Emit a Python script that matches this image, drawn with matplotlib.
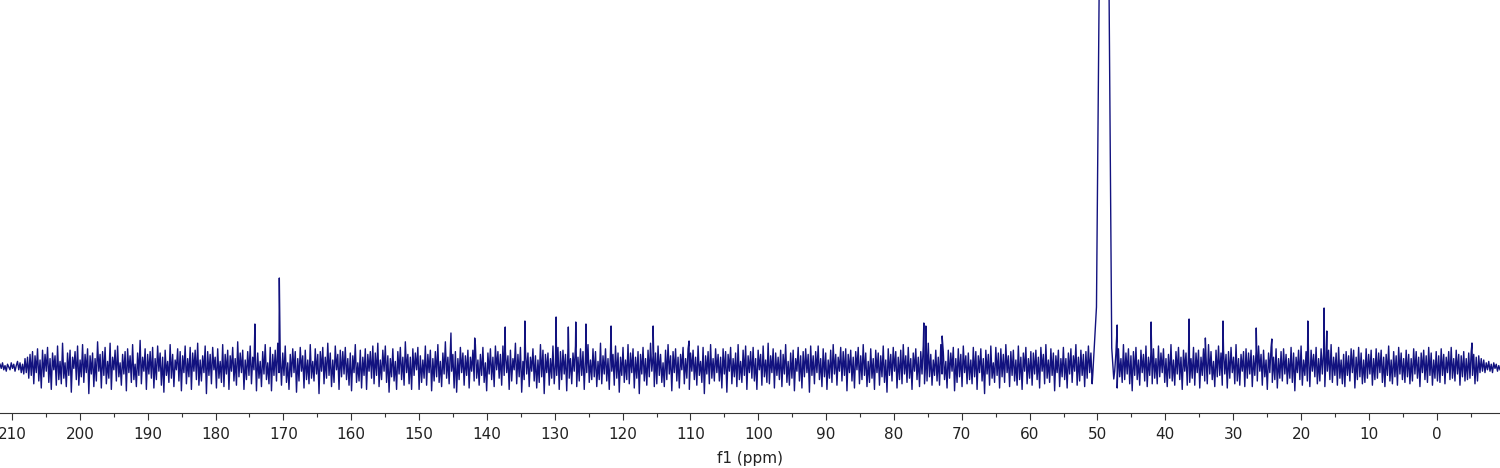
import matplotlib.pyplot as plt
from matplotlib.ticker import MultipleLocator
import numpy as np

# noise floor, left to right (relative units)
noise = [
    2, -1, 3, -2, 1, -3, 2, 0, -2, 3, -1, 2, -3, 1, 4, -2, 3, -4, 2, -5, 6, -4, 7, -8, 9,
    -6, 11, -12, 8, -4, 13, -10, 5, -15, 12, -7, 9, -3, 14, -11, 6, -16, 10, -2, 8, -13, 15, -9, 4, -12,
    17, -8, 3, -14, 10, -6, 12, -18, 7, -1, 11, -9, 15, -13, 5, -7, 16, -11, 9, -4, 13, -19, 8, -5, 10,
    -14, 6, -10, 18, -3, 9, -15, 11, -6, 14, -12, 4, -8, 17, -16, 7, -2, 12, -10, 15, -7, 3, -13, 9, -5,
    11, -17, 13, -4, 8, -11, 16, -9, 2, -14, 10, -6, 19, -12, 7, -3, 13, -16, 9, -5, 11, -8, 14, -15, 6,
    -9, 15, -3, 10, -13, 7, -18, 12, -6, 4, -11, 16, -8, 9, -14, 5, -2, 13, -10, 11, -17, 8, -4, 15, -12,
    6, -7, 14, -16, 10, -3, 12, -9, 17, -13, 5, -10, 8, -4, 15, -19, 11, -6, 9, -12, 14, -2, 7, -15, 13,
    -8, 4, -11, 16, -14, 9, -5, 12, -16, 8, -3, 14, -10, 6, -13, 18, -7, 10, -4, 12, -16, 5, -9, 11, -6,
    15, -12, 7, -2, 13, -17, 10, -8, 4, -14, 11, -5, 16, -9, 3, -12, 14, -17, 9, -6, 12, -10, 17, -4, 8,
    -13, 10, -6, 15, -11, 3, -16, 9, -7, 13, -4, 11, -18, 6, -10, 14, -3, 8, -15, 12, -9, 5, -12, 16, -8,
    4, -10, 13, -5, 9, -19, 11, -3, 14, -12, 7, -8, 17, -6, 10, -14, 5, -11, 15, -2, 9, -16, 12, -7, 11,
    -5, 14, -9, 6, -13, 10, -17, 8, -4, 16, -11, 3, -10, 12, -15, 7, -6, 13, -16, 9, -3, 11, -8, 15, -12,
    10, -6, 17, -14, 5, -9, 12, -3, 15, -11, 8, -18, 6, -7, 13, -10, 4, -16, 11, -5, 14, -9, 7, -13, 18,
    -4, 9, -12, 7, -16, 13, -6, 10, -2, 14, -16, 8, -11, 5, -8, 15, -13, 9, -4, 12, -17, 6, -10, 11, -7,
    16, -11, 4, -14, 10, -5, 18, -8, 7, -12, 13, -3, 9, -15, 11, -18, 6, -9, 14, -4, 10, -13, 8, -6, 12,
    -15, 7, -3, 12, -10, 16, -8, 5, -13, 9, -6, 14, -11, 3, -17, 10, -5, 13, -9, 7, -14, 15, -2, 11, -8,
    9, -13, 15, -6, 11, -4, 8, -16, 12, -10, 6, -2, 17, -12, 9, -7, 14, -18, 4, -9, 12, -5, 10, -14, 7,
    -3, 13, -10, 8, -15, 5, -11, 16, -7, 12, -19, 9, -4, 10, -13, 6, -8, 15, -12, 3, -6, 14, -16, 11, -9,
    12, -5, 9, -17, 14, -8, 6, -12, 10, -3, 15, -14, 7, -10, 13, -6, 11, -16, 8, -4, 16, -11, 5, -9, 13,
    -7, 11, -14, 4, -9, 17, -12, 8, -5, 13, -10, 6, -16, 12, -3, 9, -13, 15, -8, 10, -18, 7, -6, 14, -11,
    5, -9, 16, -12, 10, -4, 13, -15, 7, -8, 11, -19, 9, -5, 14, -10, 6, -13, 12, -7, 17, -3, 8, -14, 10,
    -12, 15, -6, 9, -11, 3, -14, 12, -9, 16, -5, 8, -17, 11, -4, 13, -10, 7, -15, 9, -2, 14, -12, 6, -8,
    13, -16, 10, -3, 12, -9, 7, -13, 15, -6, 4, -11, 14, -19, 8, -5, 11, -12, 16, -8, 6, -10, 13, -4, 9,
    -10, 7, -15, 13, -5, 11, -18, 9, -3, 14, -12, 6, -7, 10, -14, 16, -9, 4, -11, 12, -6, 15, -16, 8, -4,
    11, -8, 14, -10, 6, -16, 12, -2, 9, -13, 15, -7, 5, -11, 17, -12, 8, -4, 13, -15, 10, -6, 7, -9, 12,
    -14, 9, -5, 16, -11, 4, -13, 10, -8, 12, -17, 6, -3, 14, -10, 8, -15, 11, -7, 13, -4, 9, -18, 15, -6,
    8, -12, 11, -4, 15, -9, 6, -14, 13, -7, 10, -16, 5, -8, 12, -11, 16, -5, 9, -13, 7, -3, 14, -10, 11,
    -6, 13, -17, 9, -4, 12, -10, 7, -15, 11, -2, 14, -12, 8, -9, 16, -6, 10, -14, 4, -11, 13, -8, 6, -16,
    12, -4, 10, -13, 8, -7, 15, -11, 5, -18, 13, -6, 9, -10, 14, -3, 11, -15, 7, -9, 12, -12, 16, -5, 8,
    -11, 14, -8, 6, -16, 10, -3, 13, -9, 7, -14, 11, -5, 15, -12, 4, -10, 17, -7, 9, -13, 5, -6, 12, -10,
    7, -13, 16, -5, 11, -9, 4, -15, 12, -8, 10, -3, 14, -17, 6, -11, 13, -7, 9, -14, 15, -4, 8, -12, 10,
    -9, 5, -12, 14, -7, 11, -16, 8, -4, 13, -10, 6, -19, 12, -5, 9, -13, 15, -8, 3, -11, 14, -6, 10, -15,
    13, -7, 9, -11, 16, -4, 8, -14, 11, -6, 12, -10, 5, -13, 15, -9, 7, -16, 10, -3, 14, -12, 6, -8, 11,
    -13, 10, -5, 12, -9, 7, -15, 14, -3, 9, -12, 16, -8, 5, -11, 13, -6, 10, -17, 8, -4, 12, -14, 6, -7,
    14, -9, 6, -15, 10, -5, 13, -11, 8, -3, 16, -13, 7, -10, 12, -6, 9, -14, 11, -8, 15, -4, 10, -12, 5,
    -8, 12, -14, 7, -10, 15, -6, 9, -13, 11, -4, 14, -16, 8, -9, 12, -3, 10, -15, 13, -7, 6, -11, 16, -9,
    10, -5, 13, -12, 8, -17, 11, -6, 14, -9, 5, -13, 12, -4, 9, -10, 15, -14, 7, -6, 11, -12, 13, -8, 6,
    -12, 15, -7, 10, -4, 13, -11, 6, -14, 9, -8, 16, -10, 5, -13, 11, -5, 14, -9, 7, -16, 12, -3, 10, -13,
    9, -11, 6, -8, 14, -13, 10, -4, 12, -15, 7, -6, 13, -10, 8, -12, 16, -5, 11, -9, 4, -14, 12, -7, 15,
    -6, 10, -13, 12, -5, 9, -15, 11, -8, 14, -4, 7, -12, 16, -10, 6, -13, 9, -3, 11, -14, 13, -8, 10, -5,
    12, -14, 8, -6, 11, -10, 15, -3, 9, -13, 12, -7, 5, -16, 10, -4, 14, -11, 7, -9, 13, -15, 6, -8, 11,
    -10, 13, -5, 9, -12, 6, -8, 14, -11, 10, -17, 7, -4, 12, -9, 15, -13, 5, -6, 11, -10, 8, -14, 12, -3,
    9, -7, 14, -12, 6, -10, 13, -5, 11, -14, 8, -3, 12, -9, 16, -11, 7, -6, 10, -13, 14, -8, 5, -12, 9,
    -14, 11, -6, 8, -10, 13, -4, 12, -15, 7, -9, 14, -7, 10, -12, 5, -11, 13, -8, 9, -5, 12, -13, 6, -9,
    13, -8, 10, -4, 12, -11, 7, -14, 9, -6, 15, -10, 5, -12, 11, -7, 8, -13, 14, -5, 10, -9, 6, -11, 12,
    -7, 9, -12, 6, -10, 13, -5, 11, -8, 7, -14, 10, -4, 12, -9, 8, -11, 14, -6, 10, -13, 5, -8, 11, -10,
    8, -11, 13, -6, 9, -12, 7, -4, 11, -9, 14, -8, 6, -10, 12, -5, 9, -13, 8, -7, 11, -10, 6, -9, 10,
    -8, 11, -6, 9, -12, 7, -10, 8, -4, 6, -3, 5, -4, 3, -2, 4, -3, 2, -4, 3, -1, 2, -3, 1, -2,
]
noise_scale = 1.4  # relative units -> px above baseline

# sharp signals (ppm, height in px above baseline)
peak_ppm = [174.2, 170.6, 145.3, 141.8, 137.3, 134.4, 129.8, 128.0, 126.9, 125.4, 121.7,
            115.5, 110.2, 75.6, 75.3, 72.9, 47.1, 42.1, 36.5, 34.1, 31.5, 26.6, 24.3,
            19.0, 16.6, 16.2, -5.2]
peak_int = [43, 89, 34, 29, 40, 46, 50, 40, 45, 43, 41,
            41, 26, 44, 41, 31, 42, 45, 48, 29, 46, 39, 28,
            46, 59, 36, 24]

# solvent multiplet around 49 ppm, off scale
solv_ppm = [50.7, 50.15, 49.75, 49.7, 48.35, 48.3, 47.9, 47.6]
solv_int = [-8, 60, 380, 3000, 3000, 380, 19, -12]

ppm = np.linspace(211.77, -9.33, len(noise))
keep = (ppm > 50.75) | (ppm < 47.55)
x = np.concatenate([ppm[keep], peak_ppm, solv_ppm])
y = np.concatenate([np.array(noise, dtype=float)[keep] * noise_scale, peak_int, solv_int])
order = np.argsort(-x)
x, y = x[order], y[order]

fig = plt.figure(figsize=(15, 4.68), dpi=100)
ax = fig.add_axes([0, 55/468, 1, 413/468])
ax.plot(x, y, color='#12127f', lw=1.0)

ax.set_xlim(211.77, -9.33)
ax.set_ylim(-46, 367)
for s in ['top', 'left', 'right']:
    ax.spines[s].set_visible(False)
ax.spines['bottom'].set_color('#333333')
ax.set_yticks([])
ax.set_xticks(np.arange(0, 211, 10))
ax.xaxis.set_minor_locator(MultipleLocator(5))
ax.tick_params(axis='x', which='major', length=5, width=0.8, color='#333333',
               labelsize=11, labelcolor='#222222', pad=5)
ax.tick_params(axis='x', which='minor', length=3, width=0.8, color='#333333')

fig.text(0.5, 1 - 458/468, 'f1 (ppm)', ha='center', va='center', fontsize=11, color='#222222')

fig.savefig('out.png', dpi=100)
